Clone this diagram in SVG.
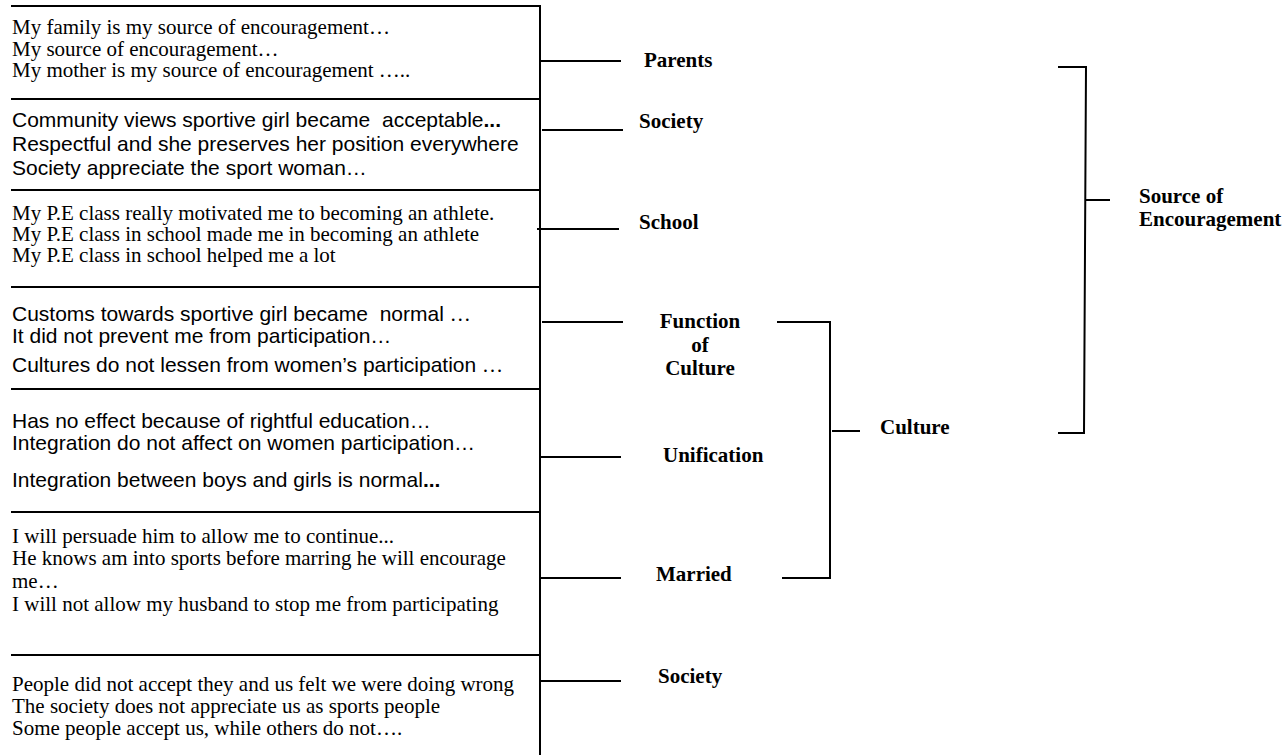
<svg xmlns="http://www.w3.org/2000/svg" width="1287" height="755" viewBox="0 0 1287 755">
<style>
.ln{stroke:#000;stroke-width:2;fill:none}
.tr{font-family:"Liberation Serif","Times New Roman",serif;font-size:21px;fill:#000}
.ar{font-family:"Liberation Sans",Arial,sans-serif;font-size:21px;fill:#000}
.lb{font-family:"Liberation Serif","Times New Roman",serif;font-size:21px;font-weight:bold;fill:#000}
.bd{font-weight:bold}
.el{font-family:"Liberation Serif","Times New Roman",serif}
</style>
<rect width="1287" height="755" fill="#fff"/>
<g id="box-frame">
<path class="ln" d="M11,6H541M540,6V755M11,99H540M11,190H540M11,287H540M11,389H540M11,512H540M11,655H540"/>
</g>
<g id="quotes-parents">
<text class="tr" x="12" y="34">My family is my source of encouragement…</text>
<text class="tr" x="12" y="56">My source of encouragement…</text>
<text class="tr" x="12" y="77">My mother is my source of encouragement …..</text>
</g>
<g id="quotes-society">
<text class="ar" x="12" y="127" xml:space="preserve">Community views sportive girl became  acceptable<tspan class="bd">...</tspan></text>
<text class="ar" x="12" y="151">Respectful and she preserves her position everywhere</text>
<text class="ar" x="12" y="175">Society appreciate the sport woman…</text>
</g>
<g id="quotes-school">
<text class="tr" x="12" y="220">My P.E class really motivated me to becoming an athlete.</text>
<text class="tr" x="12" y="241">My P.E class in school made me in becoming an athlete</text>
<text class="tr" x="12" y="262">My P.E class in school helped me a lot</text>
</g>
<g id="quotes-function">
<text class="ar" x="12" y="321" xml:space="preserve">Customs towards sportive girl became  normal <tspan class="el">…</tspan></text>
<text class="ar" x="12" y="343">It did not prevent me from participation…</text>
<text class="ar" x="12" y="372">Cultures do not lessen from women’s participation <tspan class="el">…</tspan></text>
</g>
<g id="quotes-unification">
<text class="ar" x="12" y="428">Has no effect because of rightful education…</text>
<text class="ar" x="12" y="450">Integration do not affect on women participation…</text>
<text class="ar" x="12" y="487">Integration between boys and girls is normal<tspan class="bd">...</tspan></text>
</g>
<g id="quotes-married">
<text class="tr" x="12" y="543">I will persuade him to allow me to continue...</text>
<text class="tr" x="12" y="565">He knows am into sports before marring he will encourage</text>
<text class="tr" x="12" y="588">me…</text>
<text class="tr" x="12" y="611">I will not allow my husband to stop me from participating</text>
</g>
<g id="quotes-society-neg">
<text class="tr" x="12" y="691">People did not accept they and us felt we were doing wrong</text>
<text class="tr" x="12" y="713">The society does not appreciate us as sports people</text>
<text class="tr" x="12" y="735">Some people accept us, while others do not….</text>
</g>
<g id="label-parents"><text class="lb" x="644" y="67">Parents</text></g>
<g id="label-society"><text class="lb" x="639" y="128">Society</text></g>
<g id="label-school"><text class="lb" x="639" y="229">School</text></g>
<g id="label-function"><text class="lb" text-anchor="middle"><tspan x="700" y="328">Function</tspan><tspan x="700" y="352">of</tspan><tspan x="700" y="375">Culture</tspan></text></g>
<g id="label-unification"><text class="lb" x="663" y="462">Unification</text></g>
<g id="label-married"><text class="lb" x="656" y="581">Married</text></g>
<g id="label-society-neg"><text class="lb" x="658" y="683">Society</text></g>
<g id="label-culture"><text class="lb" x="880" y="434">Culture</text></g>
<g id="label-source"><text class="lb"><tspan x="1139" y="203">Source of</tspan><tspan x="1139" y="226">Encouragement</tspan></text></g>
<g id="connectors">
<path class="ln" d="M541,61H621M542,130H623M537,229H619M542,322H623M541,457H621M541,578H621M541,681H621"/>
<path class="ln" d="M777,322H830V578H782M832,431H860"/>
<path class="ln" d="M1058,67H1086L1084,433H1058M1085,200H1110"/>
</g>
</svg>
